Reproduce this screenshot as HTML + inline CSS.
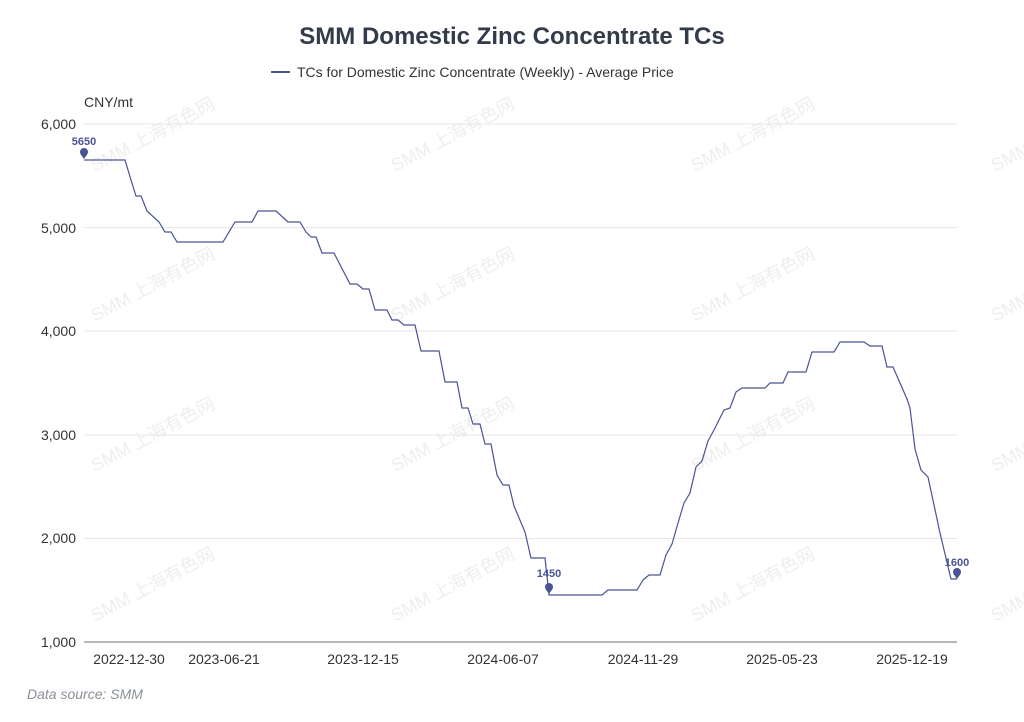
<!DOCTYPE html>
<html><head><meta charset="utf-8"><style>
body{margin:0;background:#fff;}
svg{display:block;font-family:"Liberation Sans","Noto Sans CJK SC",sans-serif;}
</style></head><body>
<svg width="1024" height="722" xmlns="http://www.w3.org/2000/svg">
<g fill="#eeeeee" font-size="18">
<g id="wm">
<text transform="translate(95,172) rotate(-28)">SMM 上海有色网</text>
<text transform="translate(395,172) rotate(-28)">SMM 上海有色网</text>
<text transform="translate(695,172) rotate(-28)">SMM 上海有色网</text>
<text transform="translate(995,172) rotate(-28)">SMM 上海有色网</text>
</g>
<use href="#wm" y="150"/><use href="#wm" y="300"/><use href="#wm" y="450"/>
</g>
<text x="512" y="44" text-anchor="middle" font-size="24" font-weight="bold" fill="#333a4a">SMM Domestic Zinc Concentrate TCs</text>
<line x1="271" y1="72" x2="290" y2="72" stroke="#4a5395" stroke-width="2"/>
<text x="297" y="77" font-size="14" fill="#333">TCs for Domestic Zinc Concentrate (Weekly) - Average Price</text>
<text x="84" y="107" font-size="14" fill="#333">CNY/mt</text>
<g stroke="#e6e6e6" stroke-width="1">
<line x1="84" y1="124" x2="957" y2="124"/><line x1="84" y1="227.6" x2="957" y2="227.6"/>
<line x1="84" y1="331" x2="957" y2="331"/><line x1="84" y1="435" x2="957" y2="435"/>
<line x1="84" y1="538.5" x2="957" y2="538.5"/>
</g>
<line x1="84" y1="642" x2="957" y2="642" stroke="#6e7079" stroke-width="1"/>
<g font-size="14" fill="#333" text-anchor="end">
<text x="76" y="129">6,000</text><text x="76" y="233">5,000</text><text x="76" y="336">4,000</text>
<text x="76" y="440">3,000</text><text x="76" y="543">2,000</text><text x="76" y="647">1,000</text>
</g>
<g font-size="14" fill="#333" text-anchor="middle">
<text x="129" y="664">2022-12-30</text><text x="224" y="664">2023-06-21</text><text x="363" y="664">2023-12-15</text>
<text x="503" y="664">2024-06-07</text><text x="643" y="664">2024-11-29</text><text x="782" y="664">2025-05-23</text>
<text x="912" y="664">2025-12-19</text>
</g>
<polyline fill="none" stroke="#4a5395" stroke-width="1.2" points="84,160 125,160 131,180 136,196 141,196 147,211 159,222 165,232 171,232 177,242 223,242 235,222 252,222 258,211 276,211 288,222 300,222 306,232 311,237 316,237 322,253 334,253 350,284 357,284 363,289 369,289 375,310 387,310 392,320 398,320 404,325 415,325 421,351 439,351 445,382 457,382 462,408 468,408 473,424 480,424 485,444 491,444 497,475 503,485 509,485 514,506 525,532 531,558 545,558 549,595 602,595 608,590 637,590 643,580 649,575 660,575 666,555 672,544 678,523 684,503 690,493 696,467 702,461 708,441 714,430 724,410 730,408 736,392 742,388 765,388 770,383 783,383 788,372 806,372 812,352 834,352 840,342 864,342 870,346 882,346 887,367 893,367 900,383 907,399 910,408 915,449 921,470 928,477 940,533 951,579 957,579"/>
<g fill="#4a5395">
<circle cx="84" cy="152" r="4"/><path d="M80.5,154 L84,159 L87.5,154Z"/>
<circle cx="549" cy="587" r="4"/><path d="M545.5,589 L549,594 L552.5,589Z"/>
<circle cx="957" cy="572" r="4"/><path d="M953.5,574 L957,579 L960.5,574Z"/>
</g>
<g font-size="11" font-weight="bold" fill="#4a5395" text-anchor="middle">
<text x="84" y="145">5650</text><text x="549" y="577">1450</text><text x="957" y="566">1600</text>
</g>
<text x="27" y="699" font-size="14" font-style="italic" fill="#8a8f99">Data source:  SMM</text>
</svg>
</body></html>
